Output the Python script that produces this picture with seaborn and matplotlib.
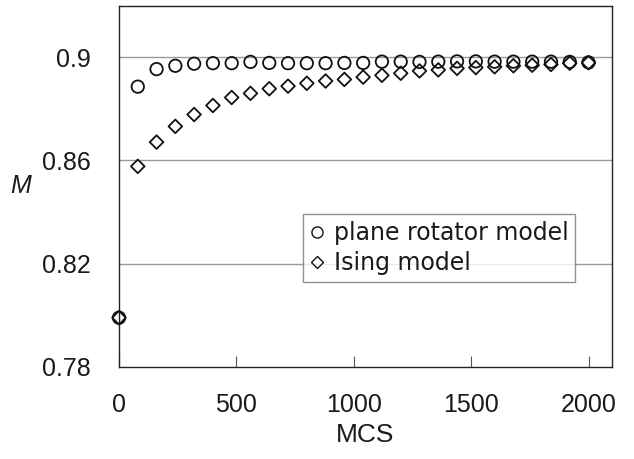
import matplotlib
matplotlib.use("Agg")
import matplotlib.pyplot as plt
import seaborn as sns
import pandas as pd
from matplotlib.lines import Line2D

mcs = [0, 80, 160, 240, 320, 400, 480, 560, 640, 720, 800, 880, 960,
       1040, 1120, 1200, 1280, 1360, 1440, 1520, 1600, 1680, 1760, 1840, 1920, 2000]
plane_rotator = [0.799, 0.8886, 0.8954, 0.8967, 0.8975, 0.8977, 0.8977, 0.8982, 0.8978,
                 0.8977, 0.8977, 0.8977, 0.8978, 0.8978, 0.8983, 0.8983, 0.8982, 0.8983,
                 0.8984, 0.8984, 0.8983, 0.8983, 0.8983, 0.8983, 0.8982, 0.8980]
ising = [0.799, 0.8577, 0.8671, 0.8732, 0.8778, 0.8813, 0.8844, 0.8860, 0.8878,
         0.8888, 0.8899, 0.8908, 0.8914, 0.8923, 0.8930, 0.8938, 0.8947, 0.8951,
         0.8957, 0.8960, 0.8963, 0.8967, 0.8969, 0.8972, 0.8977, 0.8979]
series_labels = ["plane rotator model", "Ising model"]
x_ticks = [0, 500, 1000, 1500, 2000]
y_ticks = [0.78, 0.82, 0.86, 0.9]
y_ticklabels = ["0.78", "0.82", "0.86", "0.9"]

sns.set_theme(style="white")
plt.rcParams['font.family'] = ['Liberation Sans', 'DejaVu Sans']

fig = plt.figure(figsize=(6.34, 4.59), dpi=100)
ax = fig.add_axes([0.1877, 0.2011, 0.9653 - 0.1877, 0.9876 - 0.2011])

df_p = pd.DataFrame({"MCS": mcs, "M": plane_rotator})
df_i = pd.DataFrame({"MCS": mcs, "M": ising})

sns.scatterplot(data=df_p, x="MCS", y="M", ax=ax, marker="o", s=80,
                facecolors="none", edgecolors="#111111", linewidths=1.3, clip_on=False, zorder=3)
sns.scatterplot(data=df_i, x="MCS", y="M", ax=ax, marker="D", s=48,
                facecolors="none", edgecolors="#111111", linewidths=1.3, clip_on=False, zorder=4)

ax.set_xlim(0, 2100)
ax.set_ylim(0.78, 0.92)
ax.set_xticks(x_ticks)
ax.set_xticklabels([str(t) for t in x_ticks])
ax.set_yticks(y_ticks)
ax.set_yticklabels(y_ticklabels)

for yv in y_ticks[1:]:
    ax.axhline(yv, color="#9a9a9a", lw=1.0, zorder=1)

for s in ax.spines.values():
    s.set_color("#222222")
    s.set_linewidth(1.0)
    s.set_visible(True)

ax.tick_params(axis="x", direction="in", length=8, width=0.8, color="#555555",
               labelsize=18, pad=19, labelcolor="#1a1a1a", bottom=True)
ax.tick_params(axis="y", length=0, labelsize=18, pad=20, labelcolor="#1a1a1a")

ax.set_xlabel("MCS", fontsize=19, color="#1a1a1a", labelpad=4)
ax.set_ylabel("M", fontsize=18, style="italic", rotation=0, color="#1a1a1a", labelpad=16,
              va="center")

handles = [Line2D([], [], marker="o", ls="none", mfc="none", mec="#111111", ms=8, mew=1.0),
           Line2D([], [], marker="D", ls="none", mfc="none", mec="#111111", ms=6, mew=1.0)]
leg = ax.legend(handles, series_labels, loc="upper left", bbox_to_anchor=(0.373, 0.423),
                frameon=True, fancybox=False, edgecolor="#777777",
                prop={"family": "DejaVu Sans", "size": 17},
                handlelength=0.6, handletextpad=0.4, borderpad=0.3, labelspacing=0.25,
                borderaxespad=0)
leg.get_frame().set_linewidth(1.0)
for t in leg.get_texts():
    t.set_color("#1a1a1a")

fig.savefig("out.png", dpi=100, facecolor="white")
